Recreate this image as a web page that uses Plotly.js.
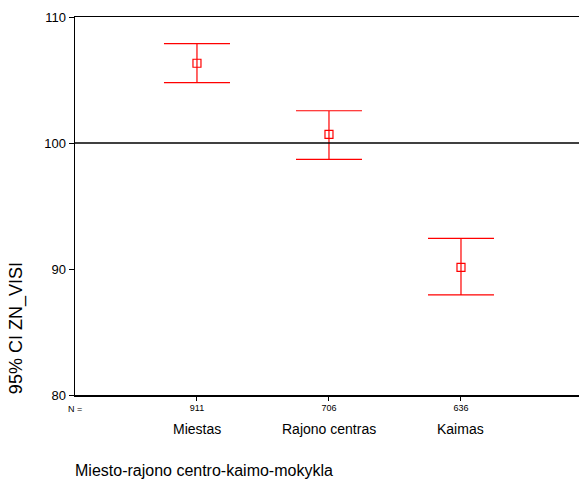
<!DOCTYPE html>
<html>
<head>
<meta charset="utf-8">
<script src="https://cdn.plot.ly/plotly-3.0.1.min.js"></script>
<style>body{margin:0;padding:0;background:#fff;} #chart{width:579px;height:483px;}</style>
</head>
<body>
<div id="chart"></div>
<script>
const categories = ['Miestas', 'Rajono centras', 'Kaimas'];
const nCounts = ['911', '706', '636'];
const means = [106.33, 100.69, 90.13];
const upper = [107.88, 102.56, 92.43];
const lower = [104.79, 98.70, 87.94];
const yTicks = [80, 90, 100, 110];
const refLine = 100;

const xPos = categories.map((c, i) => i);
const font = 'Arial, "Liberation Sans", sans-serif';

const trace = {
  type: 'scatter',
  mode: 'markers',
  x: xPos,
  y: means,
  marker: {symbol: 'square-open', size: 8, color: '#ff0000', line: {width: 1.2, color: '#ff0000'}},
  error_y: {
    type: 'data',
    symmetric: false,
    array: upper.map((u, i) => u - means[i]),
    arrayminus: lower.map((l, i) => means[i] - l),
    color: '#ff0000',
    thickness: 1.2,
    width: 33
  },
  hoverinfo: 'none',
  showlegend: false
};

const annotations = categories.map((c, i) => ({
  x: xPos[i], xref: 'x', y: -0.09, yref: 'paper',
  text: c, showarrow: false, xanchor: 'center', yanchor: 'middle',
  font: {family: font, size: 14, color: '#000'}
}));
annotations.push({
  x: 0, xref: 'paper', y: -0.037, yref: 'paper', text: 'N =', showarrow: false,
  xanchor: 'center', yanchor: 'middle', font: {family: font, size: 9, color: '#000'}
});
annotations.push({
  x: -0.117, xref: 'paper', y: 0.177, yref: 'paper', text: '95% CI ZN_VISI', showarrow: false,
  textangle: -90, xanchor: 'center', yanchor: 'middle', font: {family: font, size: 18, color: '#000'}
});
annotations.push({
  x: -0.004, xref: 'paper', y: -0.201, yref: 'paper', text: 'Miesto-rajono centro-kaimo-mokykla', showarrow: false,
  xanchor: 'left', yanchor: 'middle', font: {family: font, size: 16, color: '#000'}
});

const layout = {
  width: 579, height: 483,
  margin: {l: 75, r: 0, t: 17, b: 88},
  paper_bgcolor: '#fff', plot_bgcolor: '#fff',
  font: {family: font, color: '#000'},
  xaxis: {
    range: [-0.924, 2.894], tickvals: xPos, ticktext: nCounts,
    showgrid: false, zeroline: false, showline: true, mirror: true,
    linecolor: '#000', linewidth: 1.5, ticks: 'outside', ticklen: 4, tickcolor: '#000',
    tickfont: {family: font, size: 9, color: '#000'}, fixedrange: true
  },
  yaxis: {
    range: [80, 110], tickvals: yTicks, showgrid: false, zeroline: false,
    showline: true, mirror: false, linecolor: '#000', linewidth: 1.5,
    ticks: 'outside', ticklen: 5, tickcolor: '#000',
    tickfont: {family: font, size: 13, color: '#000'}, fixedrange: true
  },
  shapes: [{
    type: 'line', xref: 'paper', x0: 0, x1: 1, yref: 'y', y0: refLine, y1: refLine,
    line: {color: '#000', width: 1.5}
  }],
  annotations: annotations
};

Plotly.newPlot('chart', [trace], layout, {displayModeBar: false, staticPlot: true});
</script>
</body>
</html>
